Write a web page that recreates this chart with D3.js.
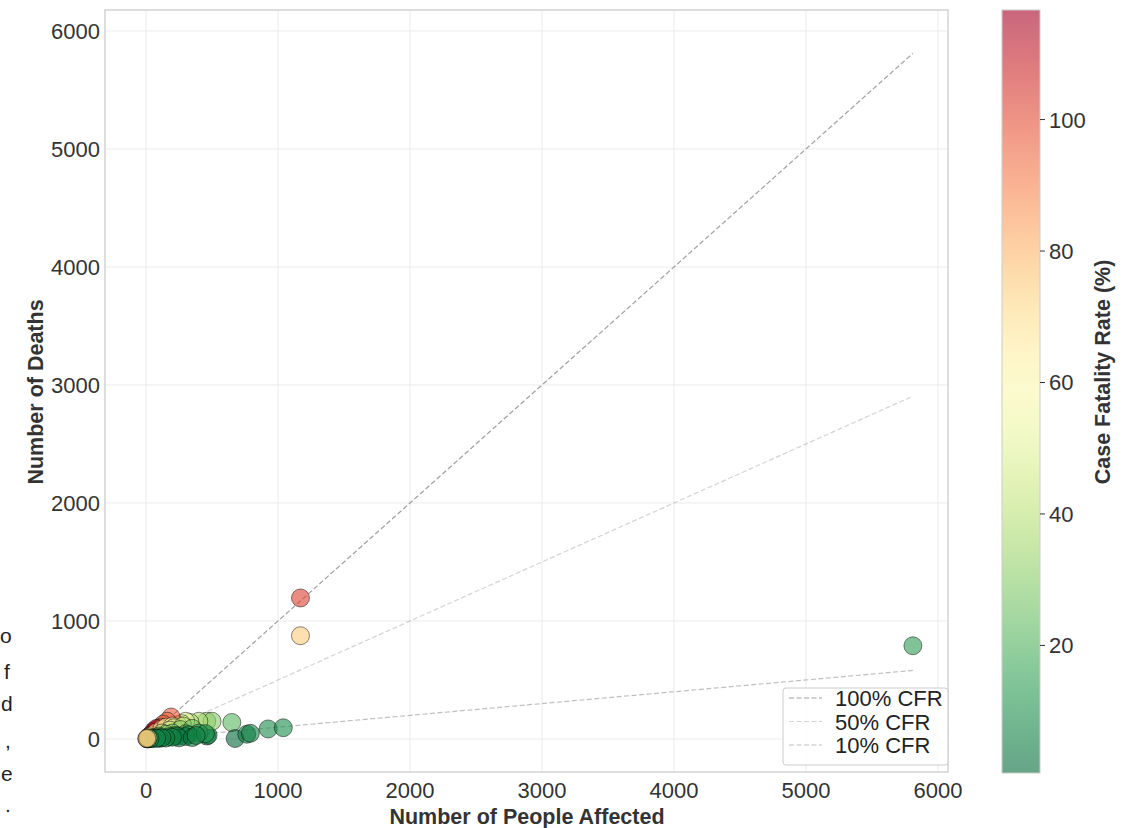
<!DOCTYPE html>
<html>
<head>
<meta charset="utf-8">
<script src="https://cdn.jsdelivr.net/npm/d3@7"></script>
<style>
  html, body { margin: 0; padding: 0; background: #ffffff; }
  svg { display: block; font-family: "Liberation Sans", Arial, Helvetica, sans-serif; }
</style>
</head>
<body>
<svg id="chart" width="1132" height="828"></svg>
<script>
// ---- data ----
const affected = [8, 12, 18, 1170, 1170, 5810, 925, 1040, 650, 675, 763, 790, 460, 470, 460, 500, 400, 333, 300, 270, 240,
  190, 160, 130, 110, 90, 70, 50, 35, 20, 60, 80, 40, 75, 120, 150, 25, 200, 210, 180, 120, 280, 260, 350,
  200, 150, 100, 300, 220, 100, 400, 60, 320, 180, 240, 300, 250, 200, 150, 100, 50, 350, 120, 80, 30, 10, 15, 450, 380, 5];
const deaths = [1, 1, 2, 1195, 875, 790, 85, 95, 140, 4, 40, 48, 25, 32, 150, 150, 150, 140, 150, 130, 120,
  186, 150, 125, 100, 85, 65, 48, 33, 19, 70, 90, 30, 55, 85, 100, 17, 110, 95, 75, 50, 110, 80, 90,
  50, 40, 25, 45, 30, 15, 50, 10, 35, 20, 25, 20, 10, 15, 8, 5, 3, 12, 10, 6, 2, 3, 8, 45, 30, 4];
const xTicks = [0, 1000, 2000, 3000, 4000, 5000, 6000];
const yTicks = [0, 1000, 2000, 3000, 4000, 5000, 6000];
const cbTicks = [20, 40, 60, 80, 100];
const refRates = [1.0, 0.5, 0.1];
const refLabels = ["100% CFR", "50% CFR", "10% CFR"];

// ---- layout ----
const svg = d3.select("#chart");
const L = 105, R = 948, T = 10, B = 772;
const x = d3.scaleLinear().domain([-311, 6076]).range([L, R]);
const y = d3.scaleLinear().domain([-280, 6178]).range([B, T]);

const pts = affected.map((a, i) => ({a, d: deaths[i], cfr: deaths[i] / a * 100}));
const cfrExt = d3.extent(pts, p => p.cfr);
const color = d3.scaleSequential(t => d3.interpolateRdYlGn(1 - t)).domain(cfrExt);
const ALPHA = 0.6;

// grid
const grid = svg.append("g");
grid.selectAll(".gx").data(xTicks).join("line")
  .attr("x1", d => x(d)).attr("x2", d => x(d)).attr("y1", T).attr("y2", B)
  .attr("stroke", "#ebebeb").attr("stroke-width", 1);
grid.selectAll(".gy").data(yTicks).join("line")
  .attr("y1", d => y(d)).attr("y2", d => y(d)).attr("x1", L).attr("x2", R)
  .attr("stroke", "#ebebeb").attr("stroke-width", 1);

// reference lines
const maxA = d3.max(affected);
const refStyles = [
  {stroke: "#808080", op: 0.75},
  {stroke: "#808080", op: 0.35},
  {stroke: "#808080", op: 0.5}
];
refRates.forEach((r, i) => {
  svg.append("line")
    .attr("x1", x(0)).attr("y1", y(0)).attr("x2", x(maxA)).attr("y2", y(maxA * r))
    .attr("stroke", refStyles[i].stroke).attr("stroke-opacity", refStyles[i].op)
    .attr("stroke-width", 1.2).attr("stroke-dasharray", "5,2.5");
});

// points
svg.append("g").selectAll("circle").data(pts).join("circle")
  .attr("cx", p => x(p.a)).attr("cy", p => y(p.d)).attr("r", 9)
  .attr("fill", p => color(p.cfr)).attr("fill-opacity", ALPHA)
  .attr("stroke", "#000").attr("stroke-opacity", 0.6).attr("stroke-width", 0.8);

// frame
svg.append("rect").attr("x", L).attr("y", T).attr("width", R - L).attr("height", B - T)
  .attr("fill", "none").attr("stroke", "#cccccc").attr("stroke-width", 1.3);

// tick labels
svg.append("g").selectAll("text").data(xTicks).join("text")
  .attr("x", d => x(d)).attr("y", 798).attr("text-anchor", "middle")
  .attr("font-size", 22).attr("fill", "#333").text(d => d);
svg.append("g").selectAll("text").data(yTicks).join("text")
  .attr("x", 100).attr("y", d => y(d) + 8).attr("text-anchor", "end")
  .attr("font-size", 22).attr("fill", "#333").text(d => d);

// axis labels
svg.append("text").attr("x", 527).attr("y", 824).attr("text-anchor", "middle")
  .attr("font-size", 21.5).attr("font-weight", "bold").attr("fill", "#333").text("Number of People Affected");
svg.append("text").attr("transform", "translate(43,392) rotate(-90)").attr("text-anchor", "middle")
  .attr("font-size", 21.5).attr("font-weight", "bold").attr("fill", "#333").text("Number of Deaths");

// legend
const lg = svg.append("g");
lg.append("rect").attr("x", 783).attr("y", 688).attr("width", 165).attr("height", 77).attr("rx", 3)
  .attr("fill", "#fff").attr("fill-opacity", 0.85).attr("stroke", "#cccccc").attr("stroke-width", 1);
refLabels.forEach((lab, i) => {
  const yy = 698 + i * 23.5;
  lg.append("line").attr("x1", 789).attr("x2", 822).attr("y1", yy).attr("y2", yy)
    .attr("stroke", refStyles[i].stroke).attr("stroke-opacity", refStyles[i].op)
    .attr("stroke-width", 1.2).attr("stroke-dasharray", "5,2.5");
  lg.append("text").attr("x", 835).attr("y", yy + 8).attr("font-size", 22).attr("fill", "#222").text(lab);
});

// colorbar
const cbX = 1002, cbW = 38, cbT = 10, cbB = 773;
const cy = d3.scaleLinear().domain(cfrExt).range([cbB, cbT]);
const defs = svg.append("defs");
const grad = defs.append("linearGradient").attr("id", "cbgrad")
  .attr("x1", 0).attr("y1", 1).attr("x2", 0).attr("y2", 0);
grad.selectAll("stop").data(d3.range(0, 1.0001, 0.05)).join("stop")
  .attr("offset", t => t)
  .attr("stop-color", t => color(cfrExt[0] + t * (cfrExt[1] - cfrExt[0])))
  .attr("stop-opacity", ALPHA);
const cb = svg.append("g");
cb.append("rect").attr("x", cbX).attr("y", cbT).attr("width", cbW).attr("height", cbB - cbT)
  .attr("fill", "url(#cbgrad)");
cb.append("rect").attr("x", cbX).attr("y", cbT).attr("width", cbW).attr("height", cbB - cbT)
  .attr("fill", "none").attr("stroke", "#cccccc").attr("stroke-width", 1);
cb.selectAll(".t").data(cbTicks).join("line")
  .attr("x1", cbX + cbW).attr("x2", cbX + cbW + 5).attr("y1", d => cy(d)).attr("y2", d => cy(d))
  .attr("stroke", "#333").attr("stroke-width", 1);
cb.selectAll(".l").data(cbTicks).join("text")
  .attr("x", cbX + cbW + 9).attr("y", d => cy(d) + 8).attr("font-size", 22).attr("fill", "#333").text(d => d);
svg.append("text").attr("transform", "translate(1110,372) rotate(-90)").attr("text-anchor", "middle")
  .attr("font-size", 21.5).attr("font-weight", "bold").attr("fill", "#333").text("Case Fatality Rate (%)");

// cropped text fragments at the left edge
const frag = [["o", 0, 643], ["f", 4, 679], ["d", 1, 711], [",", 5, 748], ["e", 1, 781], [".", 5, 812]];
svg.append("g").selectAll("text").data(frag).join("text")
  .attr("x", d => d[1]).attr("y", d => d[2]).attr("font-size", 21).attr("fill", "#222").text(d => d[0]);
</script>
</body>
</html>
